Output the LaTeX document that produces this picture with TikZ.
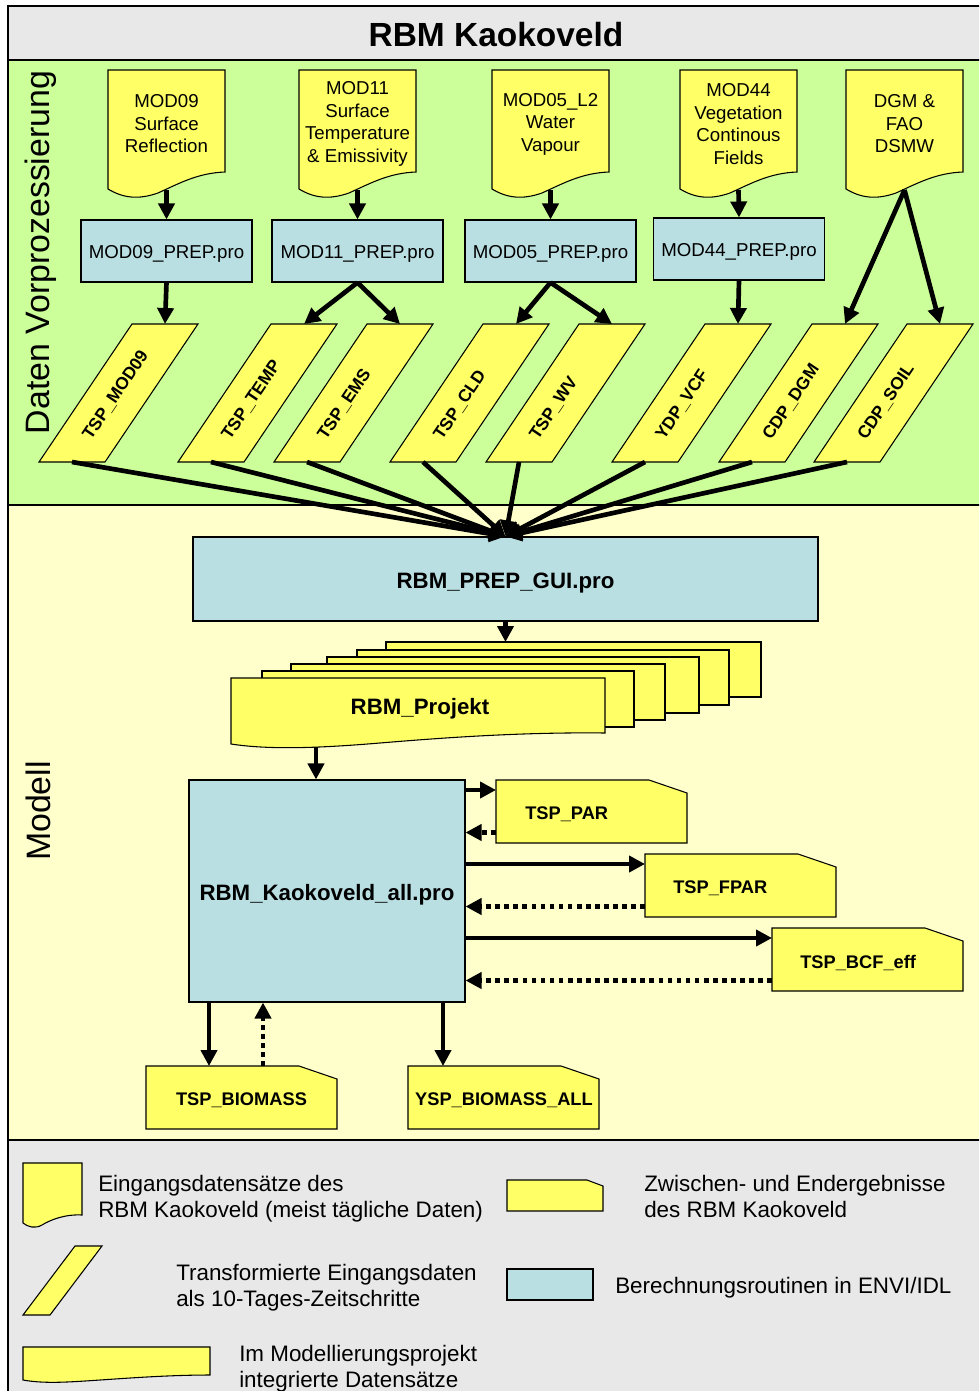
\documentclass[tikz,border=0pt]{standalone}
\usepackage{fontspec}
\setmainfont{Liberation Sans}
\usetikzlibrary{arrows.meta}

\definecolor{hdrgray}{RGB}{232,232,232}
\definecolor{bggreen}{RGB}{204,255,153}
\definecolor{bgyellow}{RGB}{255,255,204}
\definecolor{shapeyellow}{RGB}{255,255,102}
\definecolor{routineblue}{RGB}{185,223,227}

\tikzset{
  frame/.style={draw=black, line width=1.1pt},
  yshape/.style={fill=shapeyellow, draw=black, line width=0.8pt},
  routine/.style={fill=routineblue, draw=black, line width=0.8pt},
  flow/.style={line width=3.5pt, -{Triangle[length=12pt,width=12pt]}},
  backflow/.style={line width=3.3pt, dash pattern=on 3.5pt off 3.3pt,
    -{Triangle[length=12pt,width=12pt]}},
  lbl/.style={font=\fontsize{14}{16.9}\selectfont, align=center, inner sep=0pt},
  blbl/.style={font=\bfseries\fontsize{13.7}{16.9}\selectfont, inner sep=0pt},
  bigbl/.style={font=\bfseries\fontsize{16.7}{20}\selectfont, inner sep=0pt},
  boxtext/.style={text height=17.5pt, text depth=3.3pt},
  pbl/.style={font=\bfseries\fontsize{13}{15}\selectfont, inner sep=0pt, rotate=56,
    anchor=base west},
  sidelbl/.style={font=\fontsize{25.4}{30}\selectfont, rotate=90, anchor=base, inner sep=0pt},
  legendtxt/.style={font=\fontsize{16.8}{19.5}\selectfont, align=left, inner sep=0pt, anchor=west},
  prepbox/.style={routine, font=\fontsize{14}{16.9}\selectfont, inner sep=0pt,
    text height=14.7pt, text depth=2.8pt,
    minimum width=171*0.75pt, minimum height=62*0.75pt},
}

% input data set with wavy lower edge
\newcommand\inputdoc[3]{%
  \begin{scope}[shift={(#2,70)}]
    \draw[yshape] (0,0) -- (117,0) -- (117,102)
      .. controls (90,103) and (72,113) .. (50,123)
      .. controls (30,130) and (15,128) .. (0,119) -- cycle;
    \node[lbl] (#1) at (58.5,54) {#3};
    \coordinate (#1-out) at (58.5,120);
  \end{scope}}

% transformed data set (parallelogram), label runs up along the slant
\newcommand\transdata[3]{%
  \begin{scope}[shift={(#2,0)}]
    \draw[yshape] (0,462) -- (66,462) -- (159,324) -- (93,324) -- cycle;
    \node[pbl] (#1) at (52,441) {#3};
    \coordinate (#1-top) at (126,324);
    \coordinate (#1-bot) at (33,462);
  \end{scope}}

% result card with cut corner
\newcommand\outdoc[3]{%
  \begin{scope}[shift={(#2,#3)}]
    \draw[yshape] (0,0) -- (153,0) -- (191,13) -- (191,63) -- (0,63) -- cycle;
    \coordinate (#1-w1) at (0,10);
    \coordinate (#1-w2) at (0,52.5);
  \end{scope}}

\begin{document}
\begin{tikzpicture}[x=0.75pt,y=-0.75pt]
\clip (0,0) rectangle (979,1391);
\fill[white] (0,0) rectangle (979,1391);

% bands
\fill[hdrgray]  (8,6)    rectangle (984,60);
\fill[bggreen]  (8,60)   rectangle (984,505);
\fill[bgyellow] (8,505)  rectangle (984,1140);
\fill[hdrgray]  (8,1140) rectangle (984,1400);
\draw[frame] (8,6) rectangle (984,1400);
\draw[frame] (8,60) -- (984,60);
\draw[frame] (8,505) -- (984,505);
\draw[frame] (8,1140) -- (984,1140);

\node[font=\bfseries\fontsize{25.1}{28}\selectfont, inner sep=0pt] (title) at (496,35) {RBM Kaokoveld};
\node[sidelbl] (vorlabel) at (49,252.5) {Daten Vorprozessierung};
\node[sidelbl] (modlabel) at (50,811) {Modell};

% input data sets
\inputdoc{mod09doc}{108}{MOD09\\Surface\\Reflection}
\inputdoc{mod11doc}{299}{MOD11\\Surface\\Temperature\\\& Emissivity}
\inputdoc{mod05doc}{492}{MOD05\_L2\\Water\\Vapour}
\inputdoc{mod44doc}{680}{MOD44\\Vegetation\\Continous\\Fields}
\inputdoc{dgmdoc}{846}{DGM \&\\FAO\\DSMW}

% preprocessing routines
\node[prepbox] (mod09prep) at (166.5,251) {MOD09\_PREP.pro};
\node[prepbox] (mod11prep) at (357.5,251) {MOD11\_PREP.pro};
\node[prepbox] (mod05prep) at (550.5,251) {MOD05\_PREP.pro};
\node[prepbox] (mod44prep) at (739,249) {MOD44\_PREP.pro};

% transformed data sets
\transdata{tspmod09}{39}{TSP\_MOD09}
\transdata{tsptemp}{178}{TSP\_TEMP}
\transdata{tspems}{274}{TSP\_EMS}
\transdata{tspcld}{390}{TSP\_CLD}
\transdata{tspwv}{486}{TSP\_WV}
\transdata{ydpvcf}{612}{YDP\_VCF}
\transdata{cdpdgm}{719}{CDP\_DGM}
\transdata{cdpsoil}{814}{CDP\_SOIL}

% preprocessing flow
\draw[flow] (mod09doc-out) -- (mod09prep.north);
\draw[flow] (mod11doc-out) -- (mod11prep.north);
\draw[flow] (mod05doc-out) -- (mod05prep.north);
\draw[flow] (mod44doc-out) -- (mod44prep.north);
\draw[flow] (mod09prep.south) -- (tspmod09-top);
\draw[flow] (mod11prep.south) -- (tsptemp-top);
\draw[flow] (mod11prep.south) -- (tspems-top);
\draw[flow] (mod05prep.south) -- (tspcld-top);
\draw[flow] (mod05prep.south) -- (tspwv-top);
\draw[flow] (mod44prep.south) -- (ydpvcf-top);
\draw[flow] (dgmdoc-out) -- (cdpdgm-top);
\draw[flow] (dgmdoc-out) -- (cdpsoil-top);

% model part
\node[routine, bigbl, boxtext, minimum width=625*0.75pt, minimum height=84*0.75pt] (gui) at (505.5,579) {RBM\_PREP\_GUI.pro};

\foreach \src in {tspmod09,tsptemp,tspems,tspcld,tspwv,ydpvcf,cdpdgm,cdpsoil}
  \draw[flow] (\src-bot) -- (gui.north);

% stacked project data sets
\draw[yshape] (386,642) rectangle (761,697);
\draw[yshape] (357,650) rectangle (729,705);
\draw[yshape] (327,657) rectangle (699,713);
\draw[yshape] (291,664) rectangle (665,720);
\draw[yshape] (262,671) rectangle (634,727);
\draw[yshape] (231,678) -- (605,678) -- (605,733)
  .. controls (520,732) and (440,738) .. (380,743)
  .. controls (320,748) and (270,750) .. (231,744) -- cycle;
\node[bigbl] (projekt) at (420,709) {RBM\_Projekt};
\coordinate (stacktop) at (505.5,642);
\coordinate (projektout) at (316,747);
\draw[flow] (gui.south) -- (stacktop);

\node[routine, bigbl, boxtext, minimum width=276*0.75pt, minimum height=222*0.75pt] (allpro) at (327,891) {RBM\_Kaokoveld\_all.pro};
\draw[flow] (projektout) -- (allpro.north -| projektout);

% results
\outdoc{tsppar}{496}{780}
\outdoc{tspfpar}{645}{854}
\outdoc{tspbcf}{772}{928}
\outdoc{tspbiomass}{146}{1066}
\outdoc{yspbiomass}{408}{1066}
\node[blbl, anchor=west] (tspparlbl) at (525,814) {TSP\_PAR};
\node[blbl, anchor=west] (tspfparlbl) at (673,888) {TSP\_FPAR};
\node[blbl, anchor=west] (tspbcflbl) at (800,963) {TSP\_BCF\_eff};
\node[blbl] (tspbiomasslbl) at (241.5,1100) {TSP\_BIOMASS};
\node[blbl] (yspbiomasslbl) at (504,1100) {YSP\_BIOMASS\_ALL};

\draw[flow] (allpro.east |- tsppar-w1) -- (tsppar-w1);
\draw[backflow] (tsppar-w2) -- (allpro.east |- tsppar-w2);
\draw[flow] (allpro.east |- tspfpar-w1) -- (tspfpar-w1);
\draw[backflow] (tspfpar-w2) -- (allpro.east |- tspfpar-w2);
\draw[flow] (allpro.east |- tspbcf-w1) -- (tspbcf-w1);
\draw[backflow] (tspbcf-w2) -- (allpro.east |- tspbcf-w2);

\coordinate (biomassin) at (209,1066);
\coordinate (biomassback) at (263,1066);
\coordinate (yspin) at (443,1066);
\draw[flow] (allpro.south -| biomassin) -- (biomassin);
\draw[backflow] (biomassback) -- (allpro.south -| biomassback);
\draw[flow] (allpro.south -| yspin) -- (yspin);

% legend
\draw[yshape] (23,1163) -- (82,1163) -- (82,1215)
  .. controls (65,1214) and (50,1220) .. (42,1225)
  .. controls (35,1229) and (28,1227) .. (23,1223) -- cycle;
\node[legendtxt] (leg1) at (98,1199) {Eingangsdatensätze des\\RBM Kaokoveld (meist tägliche Daten)};

\draw[yshape] (507,1180) -- (587,1180) -- (603,1186) -- (603,1211) -- (507,1211) -- cycle;
\node[legendtxt] (leg2) at (644,1196) {Zwischen- und Endergebnisse\\des RBM Kaokoveld};

\draw[yshape] (23,1315) -- (50,1315) -- (102,1246) -- (75,1246) -- cycle;
\node[legendtxt] (leg3) at (176,1288) {Transformierte Eingangsdaten\\als 10-Tages-Zeitschritte};

\draw[routine] (507,1269) rectangle (593,1300);
\node[legendtxt] (leg4) at (615,1288) {Berechnungsroutinen in ENVI/IDL};

\draw[yshape] (23,1347) -- (210,1347) -- (210,1375)
  .. controls (170,1375) and (130,1378) .. (100,1380)
  .. controls (70,1382) and (45,1384) .. (23,1380) -- cycle;
\node[legendtxt] (leg5) at (239,1369) {Im Modellierungsprojekt\\integrierte Datensätze};
\end{tikzpicture}
\end{document}
